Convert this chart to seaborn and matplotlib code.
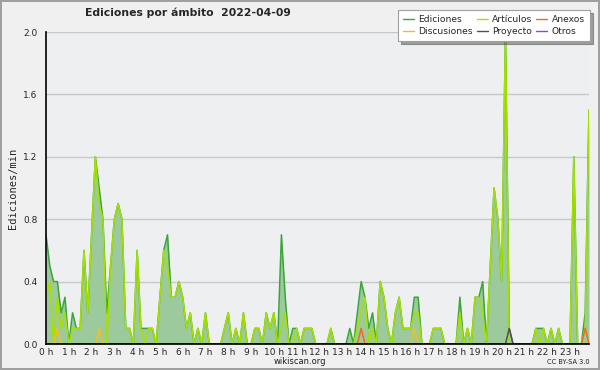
import numpy as np
import pandas as pd
import matplotlib
matplotlib.use("Agg")
import matplotlib.pyplot as plt
from matplotlib.ticker import MultipleLocator, FixedLocator
from matplotlib.lines import Line2D
import seaborn as sns

# ediciones por minuto, intervalos de 10 minutos (144 por día)
ediciones = [
    0.7, 0.5, 0.4, 0.4, 0.2, 0.3, 0, 0.2, 0.1, 0.1,
    0.6, 0.2, 0.7, 1.2, 1.0, 0.8, 0.2, 0.5, 0.8, 0.9,
    0.8, 0.1, 0.1, 0, 0.6, 0.1, 0.1, 0.1, 0.1, 0,
    0.3, 0.6, 0.7, 0.3, 0.3, 0.4, 0.3, 0.1, 0.2, 0,
    0.1, 0, 0.2, 0, 0, 0, 0, 0.1, 0.2, 0,
    0.1, 0, 0.2, 0, 0, 0.1, 0.1, 0, 0.2, 0.1,
    0.2, 0, 0.7, 0.3, 0, 0.1, 0.1, 0, 0.1, 0.1,
    0.1, 0, 0, 0, 0, 0.1, 0, 0, 0, 0,
    0.1, 0, 0.2, 0.4, 0.3, 0.1, 0.2, 0, 0.4, 0.3,
    0.1, 0, 0.2, 0.3, 0.1, 0.1, 0.1, 0.3, 0.3, 0,
    0, 0, 0.1, 0.1, 0.1, 0, 0, 0, 0, 0.3,
    0, 0.1, 0, 0.3, 0.3, 0.4, 0, 0.5, 1.0, 0.8,
    0.4, 2.0, 0.1, 0, 0, 0, 0, 0, 0, 0.1,
    0.1, 0.1, 0, 0.1, 0, 0.1, 0, 0, 0, 1.2,
    0, 0, 0.2, 1.5,
]
articulos = [
    0.3, 0.4, 0, 0.3, 0.1, 0.2, 0, 0.1, 0.1, 0.1,
    0.6, 0.2, 0.7, 1.2, 0.9, 0.8, 0, 0.5, 0.8, 0.9,
    0.8, 0.1, 0.1, 0, 0.6, 0.1, 0, 0.1, 0.1, 0,
    0.3, 0.6, 0.5, 0.3, 0.3, 0.4, 0.3, 0.1, 0.2, 0,
    0.1, 0, 0.2, 0, 0, 0, 0, 0.1, 0.2, 0,
    0.1, 0, 0.2, 0, 0, 0.1, 0.1, 0, 0.2, 0.1,
    0.2, 0, 0.1, 0.2, 0, 0, 0.1, 0, 0.1, 0.1,
    0.1, 0, 0, 0, 0, 0.1, 0, 0, 0, 0,
    0, 0, 0.1, 0.2, 0.3, 0, 0.1, 0, 0.4, 0.3,
    0.1, 0, 0.2, 0.3, 0.1, 0.1, 0.1, 0.2, 0.2, 0,
    0, 0, 0.1, 0.1, 0.1, 0, 0, 0, 0, 0.2,
    0, 0.1, 0, 0.3, 0.3, 0.2, 0, 0.5, 1.0, 0.8,
    0.4, 2.0, 0, 0, 0, 0, 0, 0, 0, 0.1,
    0, 0.1, 0, 0.1, 0, 0.1, 0, 0, 0, 1.2,
    0, 0, 0.1, 1.5,
]
# series casi vacías: intervalo -> valor
discusiones_bins = [3, 14, 97]
discusiones_vals = [0.1, 0.1, 0.1]
anexos_bins = [83, 142]
anexos_vals = [0.1, 0.1]
proyecto_bins = [122]
proyecto_vals = [0.1]

hour_labels = [f"{h} h" for h in range(24)]
y_ticks = [0.0, 0.4, 0.8, 1.2, 1.6, 2.0]

colors = {
    "Ediciones": "#3aa63a",
    "Artículos": "#a6e000",
    "Discusiones": "#f0c020",
    "Anexos": "#f06a20",
    "Proyecto": "#505050",
    "Otros": "#9a40e8",
}


def sparse(bins, vals, n):
    out = np.zeros(n)
    out[bins] = vals
    return out


n = len(ediciones)
horas = np.arange(n) / 6.0
df = pd.DataFrame({
    "hora": horas,
    "Ediciones": ediciones,
    "Artículos": articulos,
    "Discusiones": sparse(discusiones_bins, discusiones_vals, n),
    "Anexos": sparse(anexos_bins, anexos_vals, n),
    "Proyecto": sparse(proyecto_bins, proyecto_vals, n),
})
long = df.melt(id_vars="hora", var_name="serie", value_name="valor")

sns.set_style("white")
plt.rcParams["font.family"] = ["DejaVu Sans"]

fig = plt.figure(figsize=(6, 3.7), dpi=100, facecolor="#f0f0f0",
                 edgecolor="#a0a0a0", linewidth=1.5)
ax = fig.add_axes([46 / 600, 26 / 370, 543 / 600, 312 / 370])
ax.set_facecolor("#eeeff1")

ax.fill_between(df["hora"], df["Ediciones"], color="#9dca9d", lw=0, zorder=1)

order = ["Ediciones", "Artículos", "Discusiones", "Anexos", "Proyecto"]
for serie in order:
    sub = long[long["serie"] == serie]
    sns.lineplot(data=sub, x="hora", y="valor", color=colors[serie],
                 lw=1.1, ax=ax, zorder=3, legend=False)

ax.set_xlim(0, horas[-1])
ax.set_ylim(0, 2.0)
ax.xaxis.set_major_locator(FixedLocator(range(24)))
ax.xaxis.set_minor_locator(MultipleLocator(1 / 6))
ax.set_xticklabels(hour_labels)
ax.set_yticks(y_ticks)
ax.set_yticklabels([f"{v:.1f}" for v in y_ticks])
ax.yaxis.set_minor_locator(MultipleLocator(0.1))
ax.tick_params(axis="both", which="major", direction="out", length=5,
               width=1, labelsize=6.5, pad=1, color="black")
ax.tick_params(axis="both", which="minor", direction="out", length=3,
               width=1, color="black")
ax.tick_params(axis="x", which="major", length=3, pad=0)
ax.grid(axis="y", color="#c8c8c8", lw=1, zorder=0)
ax.set_axisbelow(True)
for side in ["top", "right"]:
    ax.spines[side].set_visible(False)
for side in ["left", "bottom"]:
    ax.spines[side].set_color("black")
    ax.spines[side].set_linewidth(1.2)
    ax.spines[side].set_zorder(4)
ax.set_xlabel("")
ax.set_ylabel("Ediciones/min", fontsize=7.5, family="DejaVu Sans Mono", labelpad=4)

fig.text(85 / 600, 1 - 13 / 370, "Ediciones por ámbito  2022-04-09",
         fontsize=7.8, fontweight="bold", va="center", ha="left")
fig.text(300 / 600, 1 - 362 / 370, "wikiscan.org", fontsize=6,
         ha="center", va="center", color="#202020")
fig.text(590 / 600, 1 - 362 / 370, "CC BY-SA 3.0", fontsize=4.8,
         ha="right", va="center", color="#202020")

labels = ["Ediciones", "Discusiones", "Artículos", "Proyecto", "Anexos", "Otros"]
handles = [Line2D([], [], color=colors[k], lw=1) for k in labels]
leg = fig.legend(handles, labels, ncol=3, loc="upper right",
                 bbox_to_anchor=(590 / 600, 1 - 10 / 370),
                 fontsize=6.6, frameon=True, fancybox=False, shadow=True,
                 handlelength=1.2, handletextpad=0.5, columnspacing=0.4,
                 labelspacing=0.35, borderpad=0.55, borderaxespad=0)
leg.get_frame().set_edgecolor("#a0a0a0")
leg.get_frame().set_facecolor("white")
leg.get_frame().set_linewidth(0.8)

fig.savefig("out.png", dpi=100)
